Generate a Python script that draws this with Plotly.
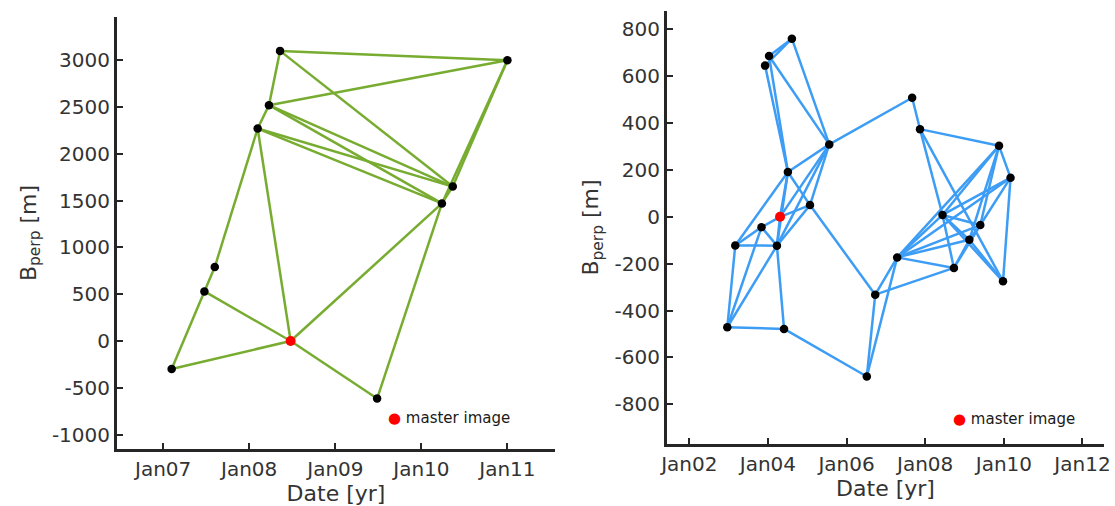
import plotly.graph_objects as go

# ---------------- Left network (green) ----------------
left_dates = ["2008-05-11", "2011-01-01", "2008-03-25", "2008-02-06", "2010-05-14",
              "2010-03-29", "2007-08-08", "2007-06-25", "2008-06-25", "2007-02-06",
              "2009-06-27"]
left_bperp = [3100, 3000, 2520, 2270, 1650, 1470, 790, 530, 0, -300, -615]
left_master = 8
left_edges = [(0, 1), (0, 2), (0, 4), (2, 1), (2, 3), (2, 4), (2, 5), (3, 4), (3, 5),
              (4, 5), (1, 4), (1, 5), (3, 6), (6, 7), (3, 8), (7, 8), (9, 7), (9, 8),
              (8, 10), (10, 5), (8, 5)]
left_yticks = [-1000, -500, 0, 500, 1000, 1500, 2000, 2500, 3000]
left_yticklabels = ["-1000", "-500", "0", "500", "1000", "1500", "2000", "2500", "3000"]

# ---------------- Right network (blue) ----------------
right_dates = ["2004-08-11", "2004-01-12", "2003-12-06", "2007-09-02", "2007-11-14",
               "2005-07-24", "2009-11-17", "2010-03-04", "2004-07-05", "2005-01-26",
               "2004-04-23", "2008-06-10", "2009-05-27", "2003-11-03", "2009-02-14",
               "2003-03-04", "2004-03-25", "2007-04-16", "2008-09-24", "2009-12-24",
               "2006-09-24", "2002-12-20", "2004-05-30", "2006-07-08"]
right_bperp = [760, 686, 645, 508, 374, 309, 303, 167, 191, 50, 0, 8, -35, -44, -98,
               -122, -123, -173, -218, -275, -332, -471, -478, -681]
right_master = 10
right_edges = [(0, 1), (0, 2), (0, 5), (1, 5), (1, 8), (2, 8), (8, 5), (5, 3), (3, 4),
               (4, 6), (4, 11), (4, 19), (6, 7), (6, 11), (6, 12), (6, 14), (6, 17),
               (7, 11), (7, 12), (7, 19), (7, 17), (11, 12), (11, 14), (11, 19),
               (11, 18), (11, 17), (12, 14), (12, 17), (14, 17), (14, 19), (14, 18),
               (12, 18), (18, 17), (18, 20), (17, 20), (17, 23), (20, 23), (20, 9),
               (9, 8), (9, 5), (10, 5), (16, 5), (8, 15), (8, 16), (8, 10), (13, 10),
               (10, 9), (9, 16), (15, 13), (15, 16), (13, 16), (10, 16), (15, 21),
               (13, 21), (16, 21), (21, 22), (16, 22), (22, 23)]
right_yticks = [-800, -600, -400, -200, 0, 200, 400, 600, 800]
right_yticklabels = ["-800", "-600", "-400", "-200", "0", "200", "400", "600", "800"]

legend_text = "master image"
x_title = "Date [yr]"
y_title = "B<sub>perp</sub> [m]"

FONT = "DejaVu Sans"
AX = "#262626"
TXT = "#333333"
GREEN = "#77AC30"
BLUE = "#3D9DF5"


def edge_xy(dates, vals, edges):
    xs, ys = [], []
    for a, b in edges:
        xs += [dates[a], dates[b], None]
        ys += [vals[a], vals[b], None]
    return xs, ys


fig = go.Figure()

for dates, vals, edges, master, color, xa, ya in [
    (left_dates, left_bperp, left_edges, left_master, GREEN, "x", "y"),
    (right_dates, right_bperp, right_edges, right_master, BLUE, "x2", "y2"),
]:
    ex, ey = edge_xy(dates, vals, edges)
    fig.add_trace(go.Scatter(x=ex, y=ey, mode="lines", xaxis=xa, yaxis=ya,
                             line=dict(color=color, width=2.5), hoverinfo="skip",
                             showlegend=False))
    nx = [d for i, d in enumerate(dates) if i != master]
    ny = [v for i, v in enumerate(vals) if i != master]
    fig.add_trace(go.Scatter(x=nx, y=ny, mode="markers", xaxis=xa, yaxis=ya,
                             marker=dict(color="black", size=8.5), showlegend=False))
    fig.add_trace(go.Scatter(x=[dates[master]], y=[vals[master]], mode="markers",
                             xaxis=xa, yaxis=ya, marker=dict(color="#FF0000", size=10),
                             showlegend=False))

axis_common = dict(showline=True, linecolor=AX, linewidth=3, ticks="inside",
                   ticklen=6, tickwidth=2, tickcolor=AX, showgrid=False,
                   zeroline=False, automargin=False,
                   tickfont=dict(family=FONT, size=20, color=TXT))
title_font = dict(family=FONT, size=22, color=TXT)

fig.update_layout(
    width=1115, height=506,
    margin=dict(l=0, r=0, t=0, b=0),
    paper_bgcolor="white", plot_bgcolor="white",
    font=dict(family=FONT, color=TXT),
    xaxis=dict(domain=[117 / 1115, 555 / 1115], anchor="y", type="date",
               range=["2006-06-19", "2011-07-22"], tick0="2007-01-01", dtick="M12",
               tickformat="%b%y",
               title=dict(text=x_title, font=title_font, standoff=4),
               **axis_common),
    yaxis=dict(domain=[1 - 449 / 506, 1 - 17 / 506], anchor="x",
               range=[-1154, 3462], tickmode="array", tickvals=left_yticks,
               ticktext=left_yticklabels,
               title=dict(text=y_title, font=title_font, standoff=10),
               **axis_common),
    xaxis2=dict(domain=[667 / 1115, 1104 / 1115], anchor="y2", type="date",
                range=["2001-06-08", "2012-07-19"], tick0="2002-01-01", dtick="M24",
                tickformat="%b%y",
                title=dict(text=x_title, font=title_font, standoff=4),
                **axis_common),
    yaxis2=dict(domain=[1 - 444 / 506, 1 - 11 / 506], anchor="x2",
                range=[-969, 878], tickmode="array", tickvals=right_yticks,
                ticktext=right_yticklabels,
                title=dict(text=y_title, font=title_font, standoff=10),
                **axis_common),
    annotations=[
        dict(text='<span style="color:#FF0000">●</span> ' + legend_text,
             xref="paper", yref="paper", x=386 / 1115, y=1 - 417.7 / 506,
             xanchor="left", yanchor="middle", showarrow=False,
             font=dict(family=FONT, size=15, color="#1a1a1a")),
        dict(text='<span style="color:#FF0000">●</span> ' + legend_text,
             xref="paper", yref="paper", x=951 / 1115, y=1 - 419.3 / 506,
             xanchor="left", yanchor="middle", showarrow=False,
             font=dict(family=FONT, size=15, color="#1a1a1a")),
    ],
)

fig.write_html("out.html",
               config={"displayModeBar": False},
               post_script="document.body.style.margin='0px';"
                           "document.body.style.overflow='hidden';")
